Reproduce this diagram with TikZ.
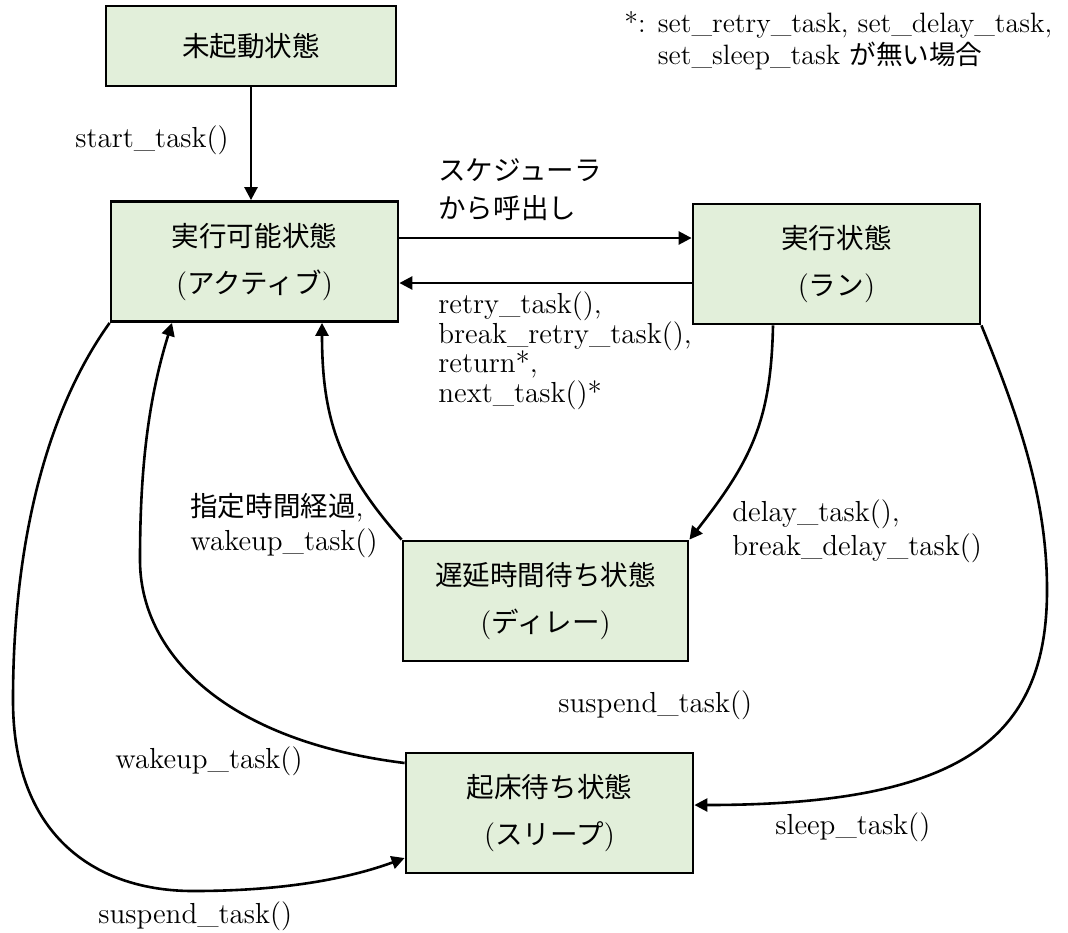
\documentclass[tikz,border=0pt]{standalone}
\usepackage{fontspec}
\newfontfamily\jp{Noto Sans CJK JP}[Scale=0.95]
\usetikzlibrary{arrows.meta,calc}
\definecolor{stateg}{RGB}{226,239,218}
\newcommand{\J}[1]{{\jp #1}}
\begin{document}
\begin{tikzpicture}[x=0.5pt,y=-0.5pt,
  state/.style={draw=black,line width=1.4pt,fill=stateg,minimum width=143.5pt,minimum height=60pt,inner sep=0pt,align=center,font=\fontsize{14.5}{23.5}\selectfont},
  lbl/.style={inner sep=0pt,anchor=base west,align=left,font=\fontsize{14.5}{15}\selectfont},
  arr/.style={line width=1.3pt,-{Triangle[length=6.5pt,width=6.5pt]}}]
\fill[white] (0,0) rectangle (1068,932);
\useasboundingbox (0,0) rectangle (1068,932);

% states
\node[state,minimum width=145pt,minimum height=40pt] (top) at (251,46) {\J{未起動状態}};
\node[state] (act) at (254.5,261.5) {\J{実行可能状態}\\(\J{アクティブ})};
\node[state] (run) at (836.5,264) {\J{実行状態}\\(\J{ラン})};
\node[state,minimum width=142.5pt] (del) at (545.5,601) {\J{遅延時間待ち状態}\\(\J{ディレー})};
\node[state] (slp) at (549.5,813) {\J{起床待ち状態}\\(\J{スリープ})};

% labels (multi-line nodes are anchored at the baseline of their last line)
\node[lbl,font=\fontsize{14}{16}\selectfont] (note) at (624,64) {*: set\_retry\_task, set\_delay\_task,\\\hphantom{*: }set\_sleep\_task \J{が無い場合}};
\node[lbl] (lstart) at (75,147) {start\_task()};
\node[lbl,font=\fontsize{14.5}{19}\selectfont] (lsched) at (438,218) {\J{スケジューラ}\\\J{から呼出し}};
\node[lbl,font=\fontsize{14.5}{14.75}\selectfont] (lretry) at (438,402) {retry\_task(),\\break\_retry\_task(),\\return*,\\next\_task()*};
\node[lbl,font=\fontsize{14.5}{17}\selectfont] (lwake1) at (190,550) {\J{指定時間経過},\\wakeup\_task()};
\node[lbl,font=\fontsize{14.5}{17}\selectfont] (ldelay) at (732,555) {delay\_task(),\\break\_delay\_task()};
\node[lbl] (lsusp1) at (558,712) {suspend\_task()};
\node[lbl] (lwake2) at (115,768) {wakeup\_task()};
\node[lbl] (lsleep) at (775,834) {sleep\_task()};
\node[lbl] (lsusp2) at (98,923) {suspend\_task()};

% connectors
\draw[arr] (top.south) -- (top.south |- act.north);
\coordinate (a1) at ([yshift=11.75pt]act.east);
\draw[arr] (a1) -- (a1 -| run.west);
\coordinate (r1) at ([yshift=-9.5pt]run.west);
\draw[arr] (r1) -- (r1 -| act.east);
\coordinate (r2) at ([xshift=-31.75pt]run.south);
\draw[arr] (r2) .. controls (771,420) and (752,460) .. (del.north east);
\coordinate (a2) at ([xshift=33.75pt]act.south);
\draw[arr] (del.north west) .. controls (340,470) and (322,420) .. (a2);
\coordinate (s1) at ([yshift=25pt]slp.west);
\coordinate (a3) at ([xshift=-41.25pt]act.south);
\draw[arr] (s1) .. controls (220,740) and (140,650) .. (140,560) .. controls (140,470) and (148,400) .. (a3);
\coordinate (s2) at ([yshift=-22.5pt]slp.west);
\draw[arr] (act.south west) .. controls (40,420) and (13,560) .. (13,700) .. controls (13,840) and (100,891) .. (193,891) .. controls (286,891) and (350,878) .. (s2);
\coordinate (s3) at ([yshift=4pt]slp.east);
\draw[arr] (run.south east) .. controls (1020,420) and (1047,500) .. (1047,590) .. controls (1047,740) and (960,805) .. (s3);
\end{tikzpicture}
\end{document}
